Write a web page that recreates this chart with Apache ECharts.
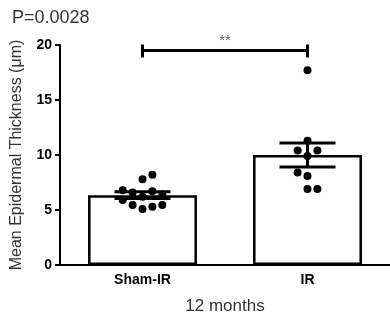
<!DOCTYPE html>
<html>
<head>
<meta charset="utf-8">
<script src="https://cdn.jsdelivr.net/npm/echarts@6/dist/echarts.min.js"></script>
<style>
  html, body { margin: 0; padding: 0; background: #fff; }
  #chart { width: 390px; height: 320px; }
</style>
</head>
<body>
<div id="chart"></div>
<script>
var categories = ['Sham-IR', 'IR'];
var means = [6.35, 10.0];
var sems = [0.3, 1.1];

// individual animals: [value, horizontal jitter in category units]
var shamValues = [8.2, 7.8, 6.8, 6.6, 6.7, 6.2, 6.4, 5.9, 5.45, 5.1, 5.3, 5.45];
var shamJitter = [0.06, 0, -0.12, -0.06, 0.06, 0, 0.12, -0.12, -0.06, 0, 0.06, 0.12];
var irValues = [17.7, 11.3, 10.4, 10.4, 9.9, 8.4, 8.1, 6.9, 6.9];
var irJitter = [0, 0, -0.06, 0.06, 0, -0.06, 0, 0, 0.06];

var yTicks = [0, 5, 10, 15, 20];
var pValue = 'P=0.0028';
var sigLabel = '**';
var sigY = 19.5;

var font = 'Liberation Sans, Arial, sans-serif';

var dots = [];
for (var i = 0; i < shamValues.length; i++) dots.push([0 + shamJitter[i], shamValues[i]]);
for (var j = 0; j < irValues.length; j++) dots.push([1 + irJitter[j], irValues[j]]);

var errData = [];
for (var k = 0; k < means.length; k++) errData.push([k, means[k] - sems[k], means[k] + sems[k]]);

var chart = echarts.init(document.getElementById('chart'));
var option = {
    animation: false,
    title: {
        text: pValue,
        left: 7,
        top: 4,
        textStyle: { fontFamily: font, fontSize: 18, fontWeight: 'normal', color: '#333' }
    },
    grid: { left: 60, right: 0, top: 45, bottom: 55 },
    xAxis: [{
        type: 'category',
        data: categories,
        name: '12 months',
        nameLocation: 'middle',
        nameGap: 33,
        nameTextStyle: { fontFamily: font, fontSize: 17, color: '#333' },
        axisLine: { lineStyle: { color: '#000', width: 2 } },
        axisTick: { alignWithLabel: true, length: 5, lineStyle: { color: '#000', width: 2 } },
        axisLabel: { fontFamily: font, fontSize: 14, fontWeight: 'bold', color: '#000', margin: 8 }
    }, {
        type: 'value',
        min: -0.5,
        max: 1.5,
        show: false
    }],
    yAxis: {
        type: 'value',
        min: 0,
        max: 20,
        interval: 5,
        name: 'Mean Epidermal Thickness (\u03bcm)',
        nameLocation: 'middle',
        nameGap: 35,
        nameTextStyle: { fontFamily: font, fontSize: 16, color: '#333' },
        axisLine: { show: true, onZero: false, lineStyle: { color: '#000', width: 2 } },
        axisTick: { show: true, length: 5, lineStyle: { color: '#000', width: 2 } },
        axisLabel: {
            fontFamily: font, fontSize: 14, fontWeight: 'bold', color: '#000', margin: 8,
            formatter: function (v) { return yTicks.indexOf(v) >= 0 ? String(v) : ''; }
        },
        splitLine: { show: false }
    },
    series: [{
        type: 'bar',
        data: means,
        barWidth: '66%',
        itemStyle: { color: '#fff', borderColor: '#000', borderWidth: 2.5 },
        z: 1
    }, {
        type: 'scatter',
        xAxisIndex: 1,
        data: dots,
        symbolSize: 8,
        itemStyle: { color: '#000', opacity: 1 },
        z: 3
    }, {
        type: 'custom',
        data: errData,
        z: 4,
        renderItem: function (params, api) {
            var lo = api.coord([api.value(0), api.value(1)]);
            var hi = api.coord([api.value(0), api.value(2)]);
            var hw = 28;
            var st = { stroke: '#000', lineWidth: 3 };
            return {
                type: 'group',
                children: [
                    { type: 'line', shape: { x1: lo[0], y1: lo[1], x2: hi[0], y2: hi[1] }, style: st },
                    { type: 'line', shape: { x1: lo[0] - hw, y1: lo[1], x2: lo[0] + hw, y2: lo[1] }, style: st },
                    { type: 'line', shape: { x1: hi[0] - hw, y1: hi[1], x2: hi[0] + hw, y2: hi[1] }, style: st }
                ]
            };
        }
    }, {
        type: 'custom',
        data: [[0, 1, sigY]],
        z: 4,
        renderItem: function (params, api) {
            var a = api.coord([api.value(0), api.value(2)]);
            var b = api.coord([api.value(1), api.value(2)]);
            var st = { stroke: '#000', lineWidth: 3 };
            return {
                type: 'group',
                children: [
                    { type: 'line', shape: { x1: a[0], y1: a[1], x2: b[0], y2: b[1] }, style: st },
                    { type: 'line', shape: { x1: a[0], y1: a[1] - 6, x2: a[0], y2: a[1] + 7 }, style: st },
                    { type: 'line', shape: { x1: b[0], y1: b[1] - 6, x2: b[0], y2: b[1] + 7 }, style: st },
                    { type: 'text', style: {
                        x: (a[0] + b[0]) / 2, y: a[1] - 2, text: sigLabel,
                        align: 'center', verticalAlign: 'bottom',
                        font: '15px ' + font, fill: '#666'
                    } }
                ]
            };
        }
    }]
};
chart.setOption(option);
</script>
</body>
</html>
